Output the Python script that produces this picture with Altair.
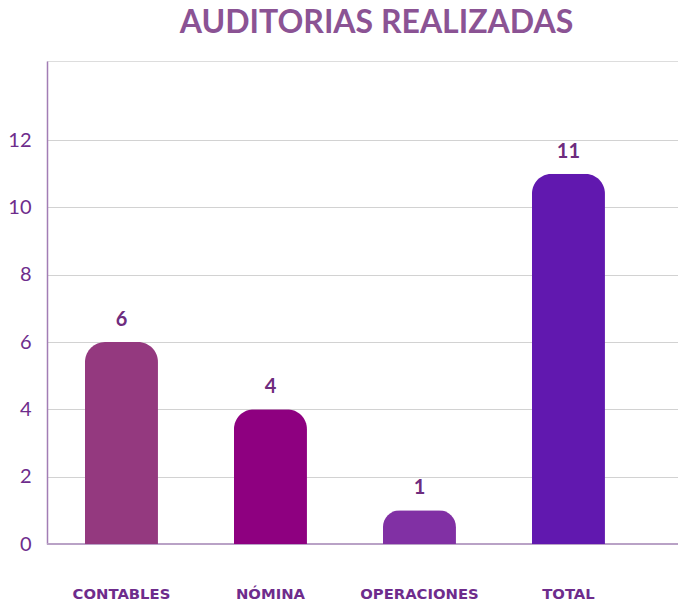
import altair as alt
import pandas as pd

categories = ["CONTABLES", "NÓMINA", "OPERACIONES", "TOTAL"]
values = [6, 4, 1, 11]
colors = ["#94397F", "#8E0080", "#8130A4", "#6118AF"]
y_ticks = [0, 2, 4, 6, 8, 10, 12]

df = pd.DataFrame({"cat": categories, "val": values, "color": colors})
zero = pd.DataFrame({"z": [0]})

FONT = "Lato"
W, H = 631, 483

x = alt.X(
    "cat:N", sort=categories,
    scale=alt.Scale(paddingInner=0.51, paddingOuter=0.3725, align=0.342),
    axis=alt.Axis(title=None, labelAngle=0, domain=False, ticks=False, grid=False,
                  labelPadding=54, labelBaseline="alphabetic",
                  labelFont="DejaVu Sans", labelFontSize=14.8,
                  labelFontWeight="bold", labelColor="#6E2C8C"),
)
y = alt.Y(
    "val:Q",
    scale=alt.Scale(domain=[0, 14.35], nice=False),
    axis=alt.Axis(title=None, values=y_ticks, grid=True, gridColor="#D2D2D2",
                  gridWidth=1, domainColor="#A27DB5", domainWidth=1.5, ticks=False,
                  labelPadding=16, labelFont=FONT, labelFontSize=20,
                  labelColor="#6E2C8C"),
)

bars = alt.Chart(df).mark_bar(cornerRadiusTopLeft=20, cornerRadiusTopRight=20).encode(
    x=x, y=y, color=alt.Color("color:N", scale=None)
)
labels = alt.Chart(df).mark_text(
    dy=-12, baseline="bottom", fontSize=20, fontWeight="bold", font=FONT, color="#6E2C7E"
).encode(x=x, y=y, text="val:Q")
base = alt.Chart(zero).mark_rule(color="#B9A2C6", strokeWidth=2).encode(
    y=alt.Y("z:Q"), x=alt.value(0), x2=alt.value(W)
)

chart = alt.layer(base, bars, labels).properties(
    width=W, height=H,
    autosize=alt.AutoSizeParams(type="none"),
    padding={"left": 39, "top": 53, "right": 0, "bottom": 57},
    title=alt.TitleParams("AUDITORIAS REALIZADAS", font=FONT, fontSize=32,
                          fontWeight="bold", color="#8B5394", anchor="middle",
                          dx=14, offset=21),
).configure_view(stroke=None).configure(background="white")

chart.save("out.html", embed_options={"renderer": "svg", "actions": False})
